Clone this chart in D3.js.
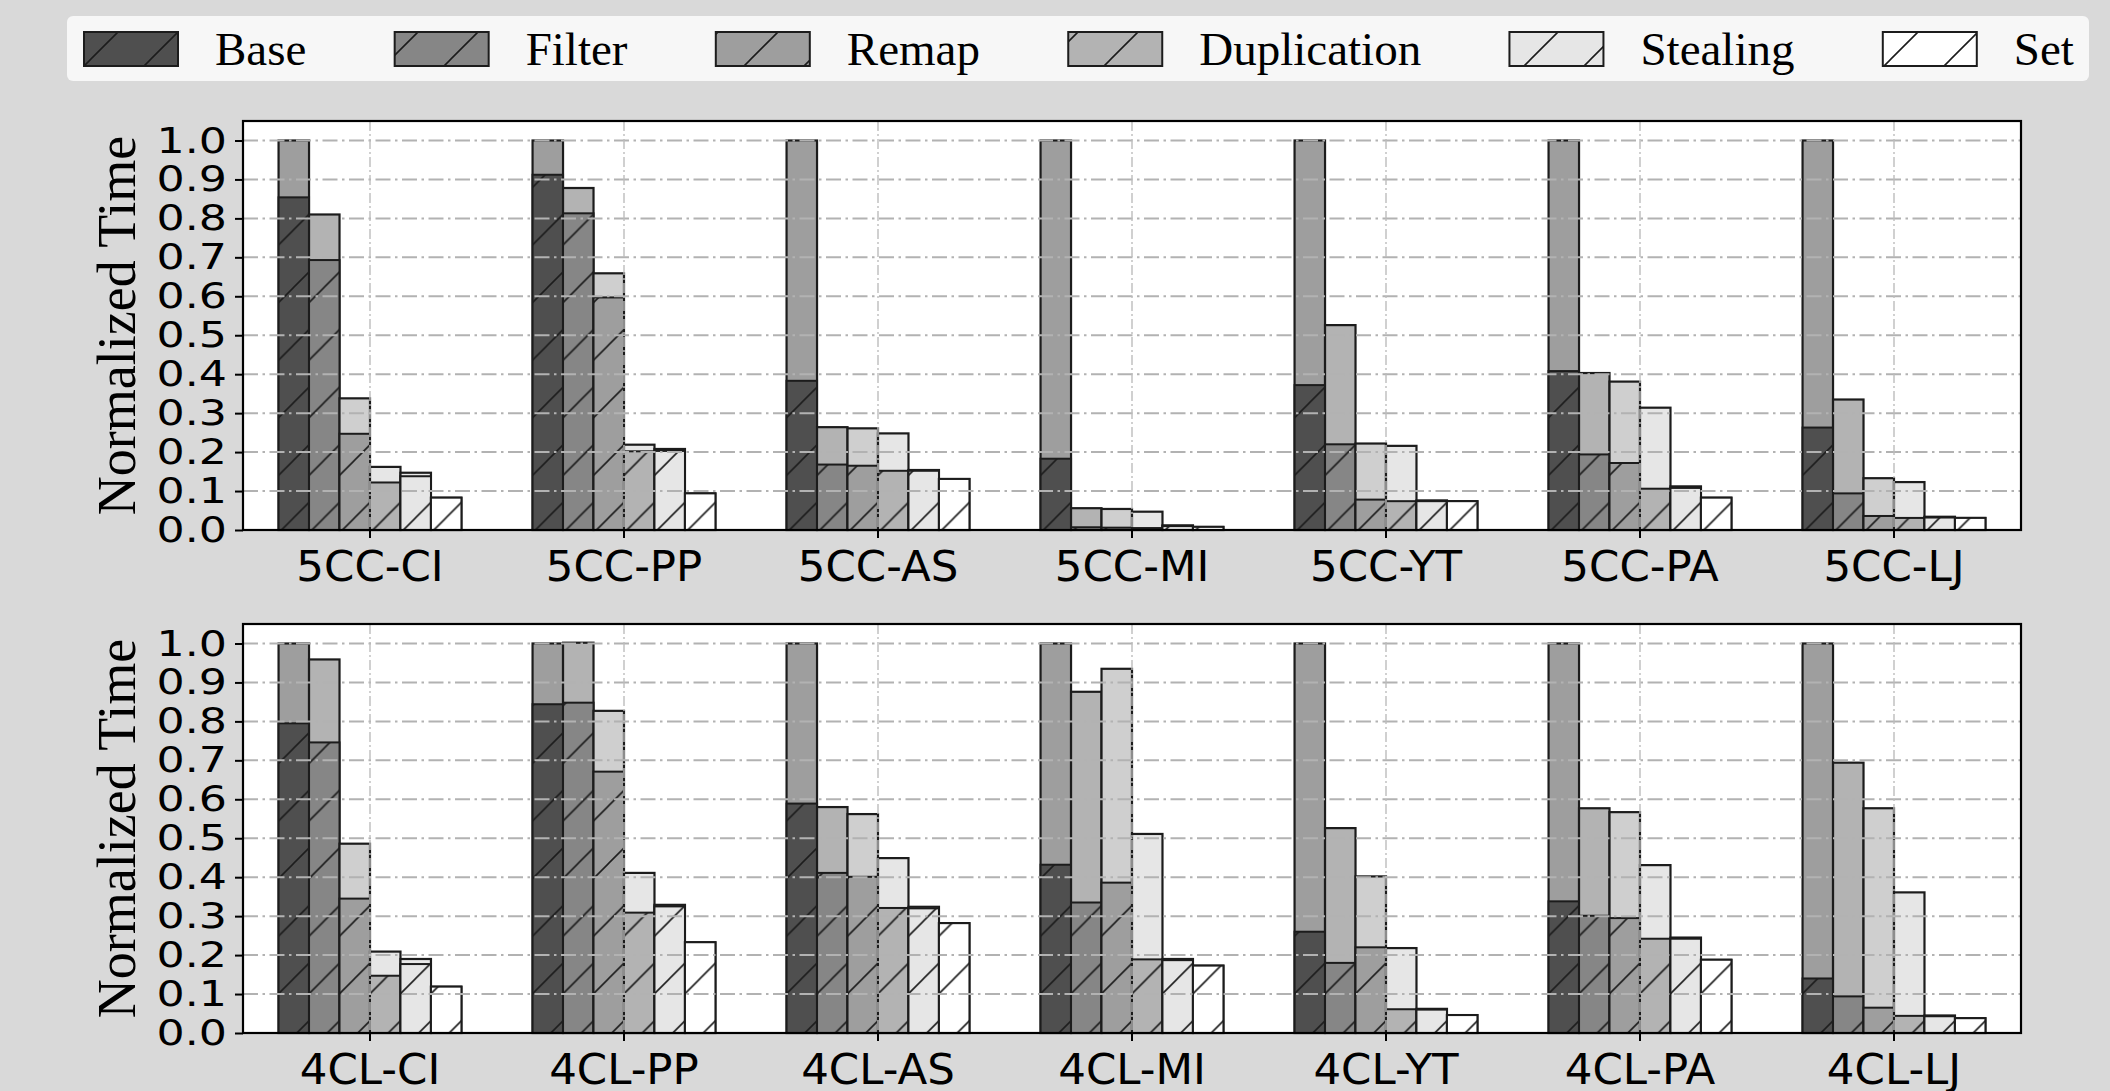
<!DOCTYPE html>
<html>
<head>
<meta charset="utf-8">
<script src="https://cdn.jsdelivr.net/npm/d3@7"></script>
<style>
  html, body { margin: 0; padding: 0; background: #d9d9d9; }
  svg { display: block; }
</style>
</head>
<body>
<svg id="chart" width="2110" height="1091"></svg>
<script>
// ---- data ----
const methods = ["Base", "Filter", "Remap", "Duplication", "Stealing", "Set"];
const cats5CC = ["5CC-CI", "5CC-PP", "5CC-AS", "5CC-MI", "5CC-YT", "5CC-PA", "5CC-LJ"];
const cats4CL = ["4CL-CI", "4CL-PP", "4CL-AS", "4CL-MI", "4CL-YT", "4CL-PA", "4CL-LJ"];
const yTicks = [0.0, 0.1, 0.2, 0.3, 0.4, 0.5, 0.6, 0.7, 0.8, 0.9, 1.0];

// total height of each bar, one row per method, one value per dataset
const total5CC = [
  [1.0, 1.0, 1.0, 1.0, 1.0, 1.0, 1.0],
  [0.810, 0.878, 0.264, 0.056, 0.526, 0.403, 0.335],
  [0.338, 0.659, 0.261, 0.054, 0.222, 0.381, 0.133],
  [0.162, 0.219, 0.248, 0.047, 0.216, 0.314, 0.123],
  [0.147, 0.208, 0.154, 0.012, 0.076, 0.112, 0.034],
  [0.083, 0.094, 0.131, 0.008, 0.074, 0.083, 0.031]
];
// hatched (lower) part of each bar
const part5CC = [
  [0.854, 0.912, 0.383, 0.183, 0.372, 0.408, 0.263],
  [0.693, 0.813, 0.168, 0.007, 0.220, 0.194, 0.094],
  [0.247, 0.597, 0.165, 0.006, 0.078, 0.172, 0.036],
  [0.122, 0.202, 0.152, 0.005, 0.074, 0.106, 0.031],
  [0.138, 0.203, 0.152, 0.010, 0.074, 0.108, 0.032],
  [0.083, 0.094, 0.131, 0.008, 0.074, 0.083, 0.031]
];
const total4CL = [
  [1.0, 1.0, 1.0, 1.0, 1.0, 1.0, 1.0],
  [0.959, 1.002, 0.580, 0.876, 0.526, 0.577, 0.694],
  [0.486, 0.827, 0.562, 0.935, 0.402, 0.567, 0.577],
  [0.209, 0.411, 0.449, 0.511, 0.218, 0.431, 0.361],
  [0.190, 0.329, 0.324, 0.190, 0.062, 0.245, 0.045],
  [0.119, 0.233, 0.282, 0.173, 0.046, 0.188, 0.038]
];
const part4CL = [
  [0.795, 0.844, 0.589, 0.432, 0.260, 0.338, 0.140],
  [0.746, 0.848, 0.411, 0.335, 0.180, 0.301, 0.094],
  [0.345, 0.671, 0.401, 0.386, 0.220, 0.295, 0.065],
  [0.147, 0.309, 0.321, 0.189, 0.061, 0.242, 0.044],
  [0.177, 0.325, 0.320, 0.187, 0.060, 0.242, 0.043],
  [0.119, 0.233, 0.282, 0.173, 0.046, 0.188, 0.038]
];

const partColors = ["#4f4f4f", "#868686", "#9e9e9e", "#b3b3b3", "#e6e6e6", "#ffffff"];
const topColors  = ["#9e9e9e", "#b3b3b3", "#cfcfcf", "#e6e6e6", "#e8e8e8", "#ffffff"];

const svg = d3.select("#chart");
const edge = "#1c1c1c";

// hatch "/" anchored to the page
const defs = svg.append("defs");
function hatch(id, s, off) {
  const p = defs.append("pattern")
    .attr("id", id)
    .attr("patternUnits", "userSpaceOnUse")
    .attr("x", off).attr("y", 0)
    .attr("width", s).attr("height", s);
  p.append("path")
    .attr("d", `M0,${s} L${s},0 M${-s / 2},${s / 2} L${s / 2},${-s / 2} M${s / 2},${s * 1.5} L${s * 1.5},${s / 2}`)
    .attr("stroke", edge).attr("stroke-width", 1.6);
}
hatch("hatch", 57.6, 14.5);
hatch("hatchLeg", 60, 30);

const left = 243, right = 2021;

function drawPanel(cats, totals, parts, top, bottom) {
  const g = svg.append("g");
  const x0 = d3.scaleBand().domain(cats).range([left, right]);
  const bw = x0.bandwidth();
  const x1 = d3.scaleBand().domain(methods).range([-0.36 * bw, 0.36 * bw]);
  const y = d3.scaleLinear().domain([0, 1.05]).range([bottom, top]);

  g.append("rect")
    .attr("x", left).attr("y", top)
    .attr("width", right - left).attr("height", bottom - top)
    .attr("fill", "#ffffff");

  const rows = [];
  methods.forEach((m, i) => {
    cats.forEach((c, j) => {
      rows.push({ m, i, c, total: totals[i][j], part: parts[i][j] });
    });
  });

  const bars = g.append("g").selectAll("g")
    .data(rows).enter().append("g")
    .attr("transform", d => `translate(${x0(d.c) + bw / 2 + x1(d.m)},0)`);

  // full bar (upper, lighter part)
  bars.append("rect")
    .attr("y", d => y(d.total))
    .attr("width", x1.bandwidth())
    .attr("height", d => y(0) - y(d.total))
    .attr("fill", d => topColors[d.i])
    .attr("stroke", edge).attr("stroke-width", 2.2);

  // hatched lower part
  bars.append("rect")
    .attr("y", d => y(d.part))
    .attr("width", x1.bandwidth())
    .attr("height", d => y(0) - y(d.part))
    .attr("fill", d => partColors[d.i]);
  bars.append("rect")
    .attr("y", d => y(d.part))
    .attr("width", x1.bandwidth())
    .attr("height", d => y(0) - y(d.part))
    .attr("fill", "url(#hatch)");
  bars.append("rect")
    .attr("y", d => y(d.part))
    .attr("width", x1.bandwidth())
    .attr("height", d => y(0) - y(d.part))
    .attr("fill", "none")
    .attr("stroke", edge).attr("stroke-width", 2);

  // grid on top of bars
  g.append("g").selectAll("line")
    .data(yTicks).enter().append("line")
    .attr("x1", left).attr("x2", right)
    .attr("y1", d => y(d)).attr("y2", d => y(d))
    .attr("stroke", "#b2b2b2").attr("stroke-width", 2)
    .attr("stroke-dasharray", "15,4.5,2.5,4.5");
  g.append("g").selectAll("line")
    .data(cats).enter().append("line")
    .attr("x1", d => x0(d) + bw / 2).attr("x2", d => x0(d) + bw / 2)
    .attr("y1", top).attr("y2", bottom)
    .attr("stroke", "#bdbdbd").attr("stroke-width", 1.4)
    .attr("stroke-dasharray", "10,3,2,3");

  // axes
  const xAxis = g.append("g")
    .attr("transform", `translate(0,${bottom})`)
    .call(d3.axisBottom(x0).tickSize(8).tickPadding(12));
  xAxis.select(".domain").remove();
  xAxis.selectAll(".tick line").attr("stroke", "#000").attr("stroke-width", 2);
  xAxis.selectAll(".tick text")
    .attr("fill", "#000")
    .style("font-family", "'DejaVu Sans', sans-serif")
    .style("font-size", "43.5px");

  const sx = 1.23;
  const yAxis = g.append("g")
    .attr("transform", `translate(${left},0)`)
    .call(d3.axisLeft(y).tickValues(yTicks).tickFormat(d3.format(".1f")).tickSize(8).tickPadding(8));
  yAxis.select(".domain").remove();
  yAxis.selectAll(".tick line").attr("stroke", "#000").attr("stroke-width", 2);
  yAxis.selectAll(".tick text")
    .attr("fill", "#000")
    .attr("x", -16 / sx)
    .attr("transform", `scale(${sx},1)`)
    .style("font-family", "'DejaVu Sans', sans-serif")
    .style("font-size", "36px");

  // spines
  g.append("rect")
    .attr("x", left).attr("y", top)
    .attr("width", right - left).attr("height", bottom - top)
    .attr("fill", "none").attr("stroke", "#000").attr("stroke-width", 2.2);

  // y label
  g.append("text")
    .attr("transform", `translate(135,${(top + bottom) / 2}) rotate(-90)`)
    .attr("text-anchor", "middle")
    .style("font-family", "'Liberation Serif', 'Times New Roman', serif")
    .style("font-size", "54px")
    .text("Normalized Time");
}

drawPanel(cats5CC, total5CC, part5CC, 121, 530);
drawPanel(cats4CL, total4CL, part4CL, 624, 1033);

// legend
const leg = svg.append("g");
leg.append("rect")
  .attr("x", 67).attr("y", 16)
  .attr("width", 2022).attr("height", 65)
  .attr("rx", 6)
  .attr("fill", "#f7f7f7");

let lx = 84;
methods.forEach((m, i) => {
  const e = leg.append("g");
  e.append("rect").attr("x", lx).attr("y", 32).attr("width", 94).attr("height", 34)
    .attr("fill", partColors[i]);
  e.append("rect").attr("x", lx).attr("y", 32).attr("width", 94).attr("height", 34)
    .attr("fill", "url(#hatchLeg)");
  e.append("rect").attr("x", lx).attr("y", 32).attr("width", 94).attr("height", 34)
    .attr("fill", "none").attr("stroke", edge).attr("stroke-width", 2);
  const t = e.append("text")
    .attr("x", lx + 131).attr("y", 64.5)
    .style("font-family", "'Liberation Serif', 'Times New Roman', serif")
    .style("font-size", "47px")
    .text(m);
  lx += 131 + t.node().getComputedTextLength() + 88.3;
});
</script>
</body>
</html>
